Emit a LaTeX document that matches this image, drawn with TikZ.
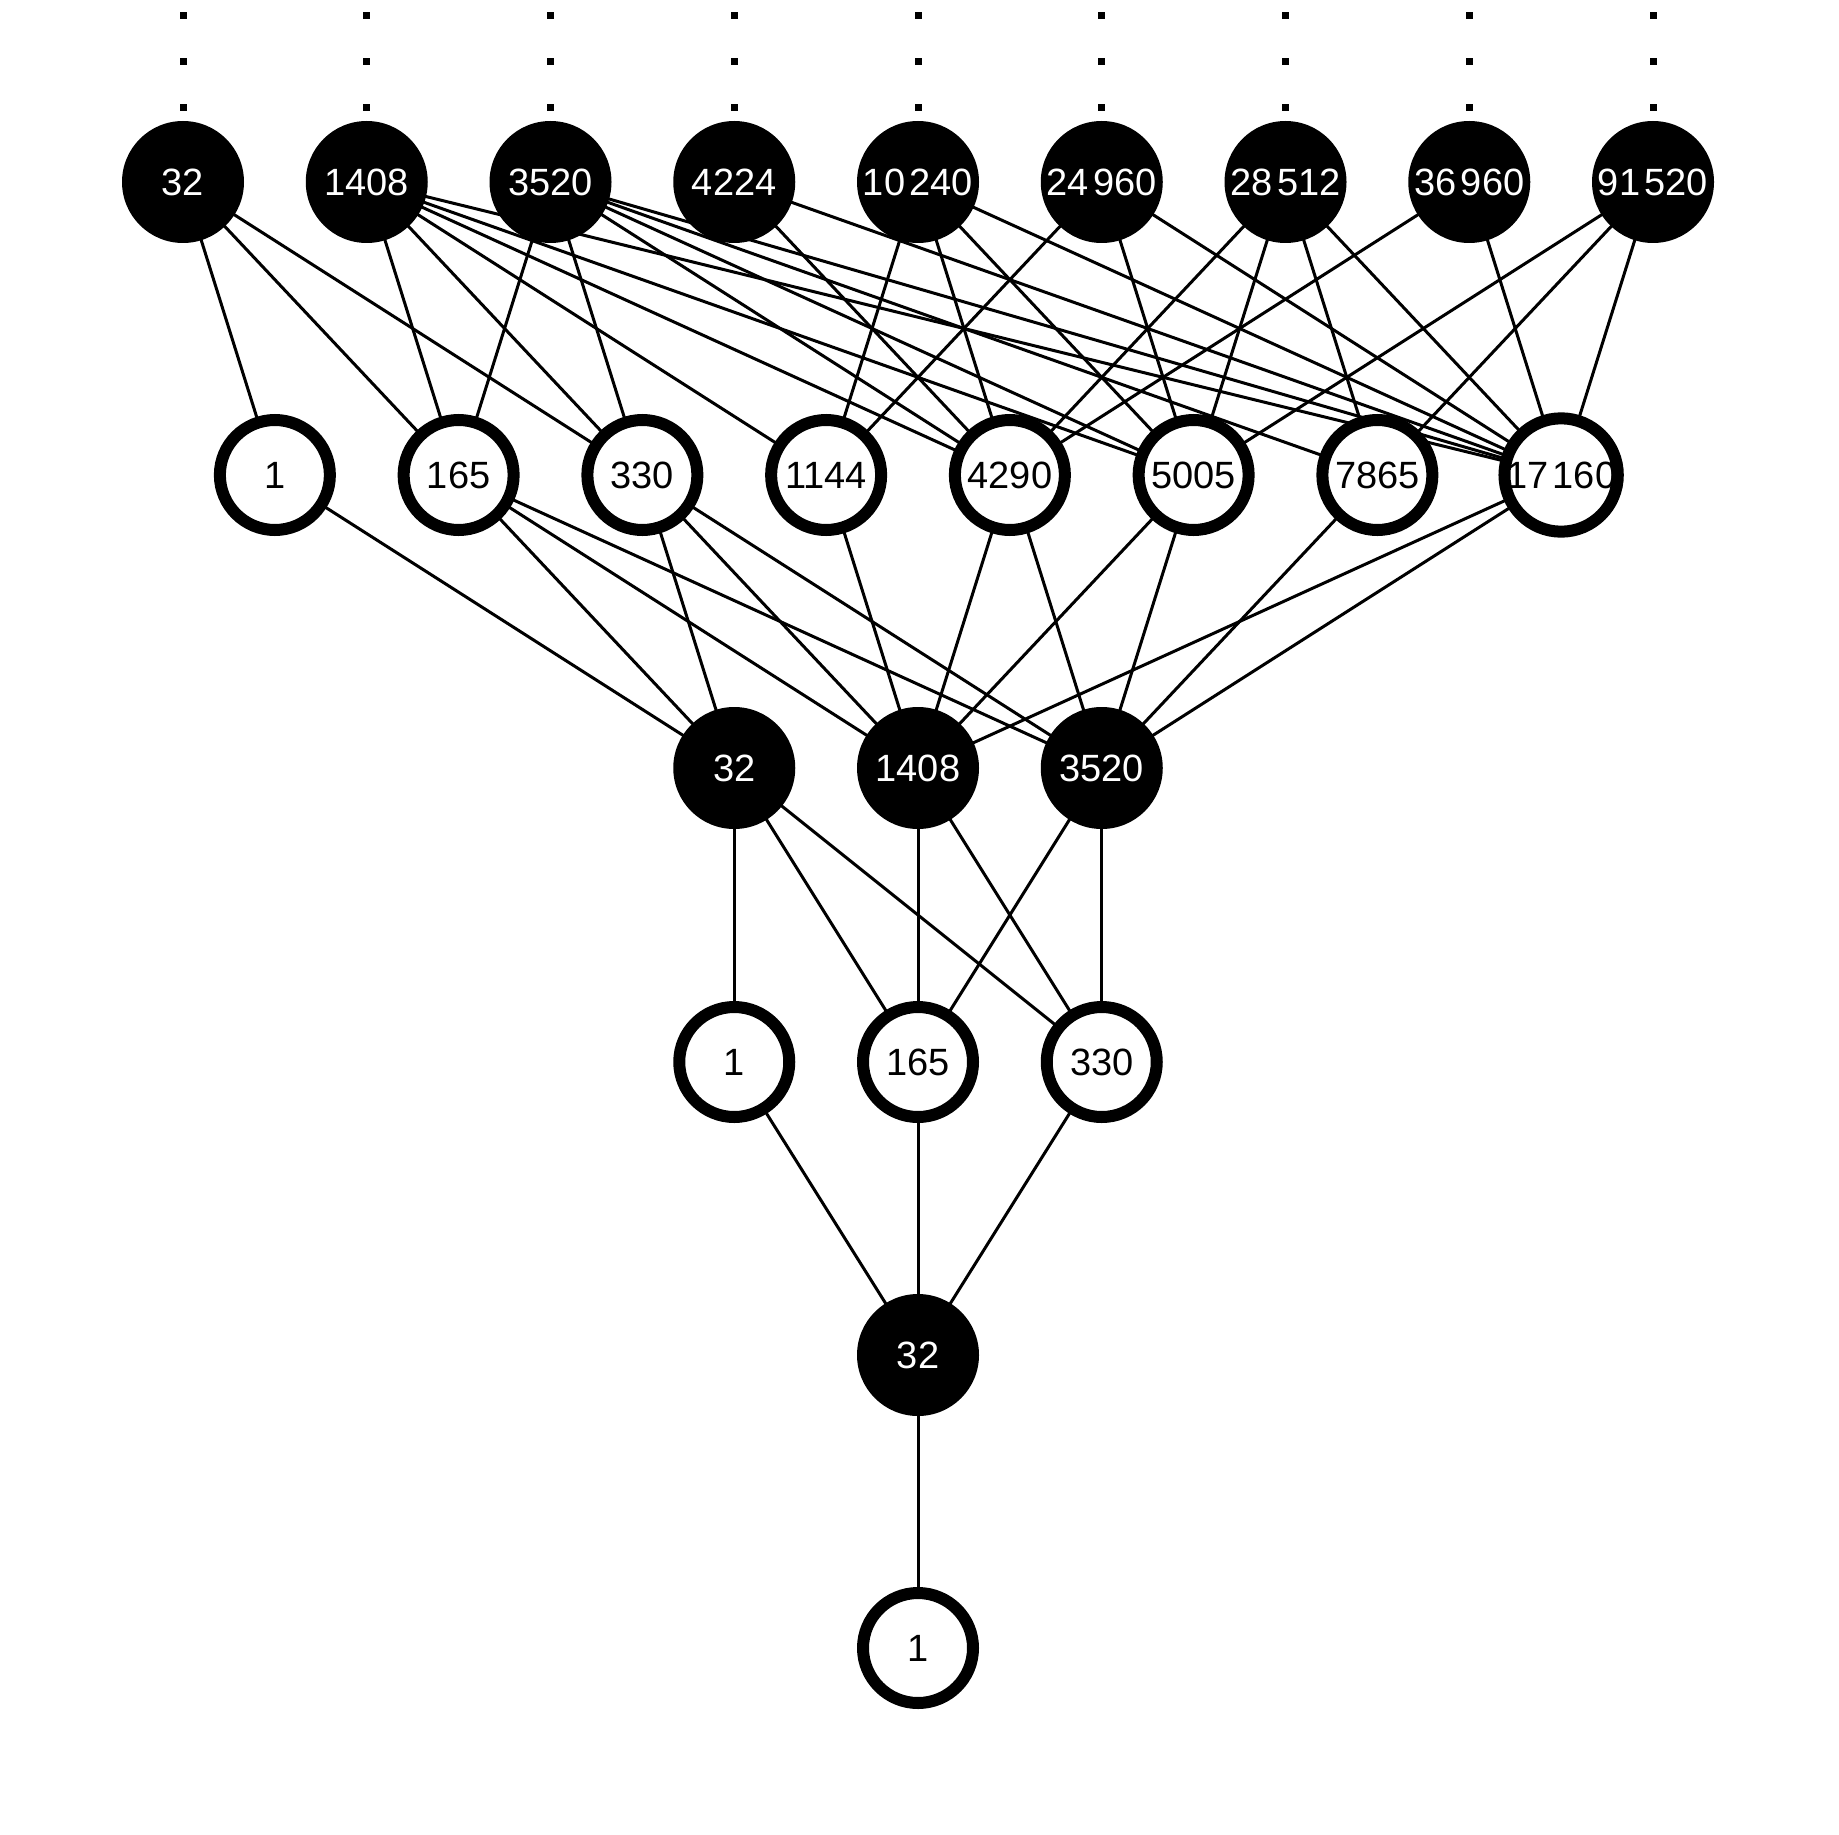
\documentclass[tikz,border=0pt]{standalone}
\usepackage{fontspec}
\newfontfamily\lsans{Liberation Sans}
\newcommand\gsp{\kern0.12em}
\pgfdeclarelayer{bg}
\pgfsetlayers{bg,main}
\begin{document}
\begin{tikzpicture}[x=1pt,y=-1pt,
  bnode/.style={circle,fill=black,text=white,minimum size=122pt,inner sep=0pt,outer sep=0pt,font=\lsans\fontsize{38}{40}\selectfont},
  wnode/.style={circle,draw=black,line width=12pt,fill=white,text=black,minimum size=110pt,inner sep=0pt,outer sep=0pt,font=\lsans\fontsize{38}{40}\selectfont},
  link/.style={line width=3pt,draw=black},
  ]
\useasboundingbox (0,0) rectangle (1839,1835);

% level 5
\node[bnode] (t1) at (183,182) {32};
\node[bnode] (t2) at (366.75,182) {1408};
\node[bnode] (t3) at (550.5,182) {3520};
\node[bnode] (t4) at (734.25,182) {4224};
\node[bnode] (t5) at (918,182) {10\gsp240};
\node[bnode] (t6) at (1101.75,182) {24\gsp960};
\node[bnode] (t7) at (1285.5,182) {28\gsp512};
\node[bnode] (t8) at (1469.25,182) {36\gsp960};
\node[bnode] (t9) at (1653,182) {91\gsp520};

% level 4
\node[wnode] (s1) at (274.875,475) {1};
\node[wnode] (s2) at (458.625,475) {165};
\node[wnode] (s3) at (642.375,475) {330};
\node[wnode] (s4) at (826.125,475) {1144};
\node[wnode] (s5) at (1009.875,475) {4290};
\node[wnode] (s6) at (1193.625,475) {5005};
\node[wnode] (s7) at (1377.375,475) {7865};
\node[wnode] (s8) at (1561.125,475) {17\gsp160};

% level 3
\node[bnode] (r1) at (734.25,768) {32};
\node[bnode] (r2) at (918,768) {1408};
\node[bnode] (r3) at (1101.75,768) {3520};

% level 2
\node[wnode] (q1) at (734.25,1062) {1};
\node[wnode] (q2) at (918,1062) {165};
\node[wnode] (q3) at (1101.75,1062) {330};

% level 1
\node[bnode] (p1) at (918,1355) {32};

% level 0
\node[wnode] (o1) at (918,1648) {1};

% dots above the top row
\foreach \xx in {183,366.75,550.5,734.25,918,1101.75,1285.5,1469.25,1653}
  \foreach \yy in {16,62,108}
    \fill[black] (\xx-3.5,\yy-3.5) rectangle (\xx+3.5,\yy+3.5);

\begin{pgfonlayer}{bg}
\draw[link] (o1.center) -- (p1.center);
\foreach \b in {q1,q2,q3} \draw[link] (p1.center) -- (\b.center);
\draw[link] (q1.center) -- (r1.center);
\foreach \b in {r1,r2,r3} {
  \draw[link] (q2.center) -- (\b.center);
  \draw[link] (q3.center) -- (\b.center);
}
\foreach \b in {s1,s2,s3} \draw[link] (r1.center) -- (\b.center);
\foreach \b in {s2,s3,s4,s5,s6,s8} \draw[link] (r2.center) -- (\b.center);
\foreach \b in {s2,s3,s5,s6,s7,s8} \draw[link] (r3.center) -- (\b.center);
\draw[link] (s1.center) -- (t1.center);
\foreach \b in {t1,t2,t3} \draw[link] (s2.center) -- (\b.center);
\foreach \b in {t1,t2,t3} \draw[link] (s3.center) -- (\b.center);
\foreach \b in {t2,t5,t6} \draw[link] (s4.center) -- (\b.center);
\foreach \b in {t2,t3,t4,t5,t7,t8} \draw[link] (s5.center) -- (\b.center);
\foreach \b in {t2,t3,t5,t6,t7,t9} \draw[link] (s6.center) -- (\b.center);
\foreach \b in {t3,t7,t9} \draw[link] (s7.center) -- (\b.center);
\foreach \b in {t2,t3,t4,t5,t6,t7,t8,t9} \draw[link] (s8.center) -- (\b.center);
\end{pgfonlayer}
\end{tikzpicture}
\end{document}
